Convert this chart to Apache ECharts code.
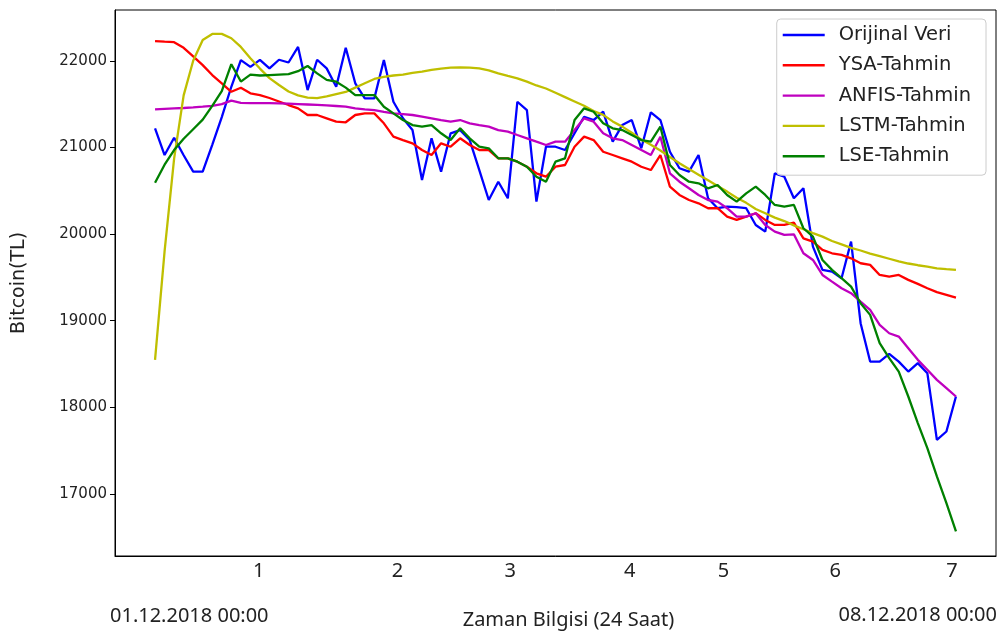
<!DOCTYPE html>
<html>
<head>
<meta charset="utf-8">
<script src="https://cdn.jsdelivr.net/npm/echarts@6/dist/echarts.min.js"></script>
<style>html,body{margin:0;padding:0;background:#fff}#c{width:1003px;height:632px}</style>
</head>
<body>
<div id="c"></div>
<script>
const orijinal = [21220,20912,21112,20910,20720,20720,21030,21350,21700,22008,21930,22010,21912,22012,21980,22160,21662,22012,21912,21700,22150,21740,21566,21566,22008,21527,21336,21200,20624,21105,20720,21163,21200,21085,20740,20393,20604,20413,21527,21431,20374,21008,21008,20970,21163,21354,21316,21412,21066,21258,21316,20990,21405,21316,20950,20759,20720,20912,20413,20298,20317,20310,20298,20105,20028,20701,20662,20413,20528,19855,19586,19566,19490,19913,18971,18528,18528,18617,18528,18413,18510,18394,17625,17721,18125];
const ysa = [22227,22220,22215,22150,22050,21950,21835,21739,21642,21689,21624,21604,21570,21530,21489,21451,21374,21374,21336,21297,21290,21374,21393,21393,21278,21124,21085,21047,20970,20912,21047,21008,21105,21028,20970,20970,20874,20874,20835,20777,20701,20662,20777,20797,21008,21124,21085,20950,20912,20874,20835,20777,20739,20912,20547,20451,20393,20355,20298,20298,20201,20163,20201,20240,20163,20105,20105,20132,19951,19913,19817,19778,19759,19720,19663,19644,19528,19509,19528,19471,19425,19375,19329,19298,19267];
const anfis = [21440,21445,21450,21455,21462,21470,21480,21500,21540,21515,21512,21510,21510,21508,21505,21500,21495,21490,21485,21478,21470,21451,21440,21431,21410,21393,21385,21374,21355,21336,21315,21297,21316,21278,21258,21239,21200,21182,21143,21105,21066,21028,21066,21066,21200,21336,21297,21163,21105,21085,21028,20970,20912,21124,20701,20604,20528,20451,20393,20374,20298,20201,20201,20240,20105,20028,19990,19997,19778,19701,19528,19451,19375,19317,19220,19124,18951,18855,18817,18683,18548,18433,18317,18221,18125];
const lstm = [18548,19800,20870,21600,22000,22240,22310,22310,22260,22160,22030,21910,21800,21720,21645,21600,21575,21570,21590,21615,21640,21690,21740,21790,21815,21830,21840,21860,21875,21895,21910,21920,21924,21920,21912,21890,21855,21825,21797,21760,21715,21680,21630,21580,21530,21480,21420,21375,21300,21240,21170,21090,21030,20965,20890,20817,20750,20685,20620,20555,20490,20420,20360,20290,20240,20190,20150,20100,20055,20010,19970,19920,19880,19840,19810,19775,19745,19715,19685,19660,19640,19625,19605,19595,19586];
const lse = [20593,20800,20970,21100,21210,21320,21480,21650,21960,21760,21840,21830,21835,21840,21845,21880,21940,21855,21780,21758,21690,21604,21604,21604,21470,21393,21316,21258,21239,21258,21163,21085,21220,21105,21008,20990,20874,20874,20835,20777,20662,20604,20835,20874,21316,21451,21412,21278,21220,21200,21143,21085,21066,21239,20797,20682,20604,20586,20528,20566,20451,20374,20470,20547,20451,20336,20317,20336,20067,19970,19701,19586,19490,19393,19201,19067,18740,18567,18413,18125,17818,17530,17203,16895,16568];
const seriesNames = ['Orijinal Veri','YSA-Tahmin','ANFIS-Tahmin','LSTM-Tahmin','LSE-Tahmin'];
const seriesColors = ['#0000ff','#ff0000','#bf00bf','#bfbf00','#008000'];
const xTickPositions = [10.88,25.42,37.24,49.79,59.62,71.34,83.58];
const xTickLabels = ['1','2','3','4','5','6','7'];
const yTickValues = [17000,18000,19000,20000,21000,22000];
const startLabel = '01.12.2018 00:00';
const endLabel = '08.12.2018 00:00';
const xAxisTitle = 'Zaman Bilgisi (24 Saat)';
const yAxisTitle = 'Bitcoin(TL)';

const allData = [orijinal, ysa, anfis, lstm, lse];
const n = orijinal.length;
const chart = echarts.init(document.getElementById('c'));
const font = 'DejaVu Sans';
const narrow = '"Liberation Sans Narrow", "Noto Sans"';
const lineIcon = 'path://M0,0L42,0L42,0.01L0,0.01Z M0,8.5L42,8.5L42,10.9L0,10.9Z M0,19.4L42,19.4L42,19.41L0,19.41Z';
chart.setOption({
  animation: false,
  backgroundColor: '#fff',
  grid: {left: 115, right: 7, top: 10, bottom: 76, outerBoundsMode: 'none', containLabel: false, show: true, borderColor: '#000', borderWidth: 1, backgroundColor: 'transparent'},
  legend: {
    orient: 'vertical', right: 17, top: 19,
    padding: [6, 15, 9, 6],
    itemWidth: 42, itemHeight: 19.4, itemGap: 10.3,
    borderColor: '#cccccc', borderWidth: 1, borderRadius: 4,
    backgroundColor: 'rgba(255,255,255,0.8)',
    textStyle: {fontFamily: font, fontSize: 19.5, color: '#222', padding: [0, 0, 0, 9]},
    data: seriesNames.map(nm => ({name: nm, icon: lineIcon}))
  },
  xAxis: {
    type: 'value', min: -0.05 * (n - 1), max: 1.05 * (n - 1),
    name: xAxisTitle, nameLocation: 'middle', nameGap: 54,
    nameTextStyle: {fontFamily: narrow, fontSize: 20, color: '#222', padding: [0, 0, 0, 26]},
    axisLine: {show: true, onZero: false, lineStyle: {color: '#000', width: 1}},
    axisTick: {show: false},
    splitLine: {show: false},
    axisLabel: {
      customValues: xTickPositions, margin: 5,
      fontFamily: narrow, fontSize: 20, color: '#222',
      formatter: v => { const k = xTickPositions.findIndex(p => Math.abs(p - v) < 1e-6); return k >= 0 ? xTickLabels[k] : ''; }
    }
  },
  yAxis: {
    type: 'value', min: 16284, max: 22586,
    name: yAxisTitle, nameLocation: 'middle', nameGap: 86, nameRotate: 90,
    nameTextStyle: {fontFamily: font, fontSize: 19, color: '#222'},
    axisLine: {show: true, onZero: false, lineStyle: {color: '#000', width: 1}},
    axisTick: {show: true, customValues: yTickValues, length: 5, lineStyle: {color: '#000'}},
    splitLine: {show: false},
    axisLabel: {customValues: yTickValues, margin: 8, fontFamily: font, fontSize: 15, color: '#222', formatter: v => String(v)}
  },
  graphic: [
    {type: 'text', left: 110, top: 606, style: {text: startLabel, font: '20px ' + narrow, fill: '#222'}},
    {type: 'text', right: 6, top: 605, style: {text: endLabel, font: '20px ' + narrow, fill: '#222'}}
  ],
  series: allData.map((arr, s) => ({
    name: seriesNames[s], type: 'line', symbol: 'none', showSymbol: false,
    data: arr.map((v, i) => [i, v]),
    lineStyle: {color: seriesColors[s], width: 2.3},
    itemStyle: {color: seriesColors[s]},
    z: 2 + s
  }))
});
</script>
</body>
</html>
